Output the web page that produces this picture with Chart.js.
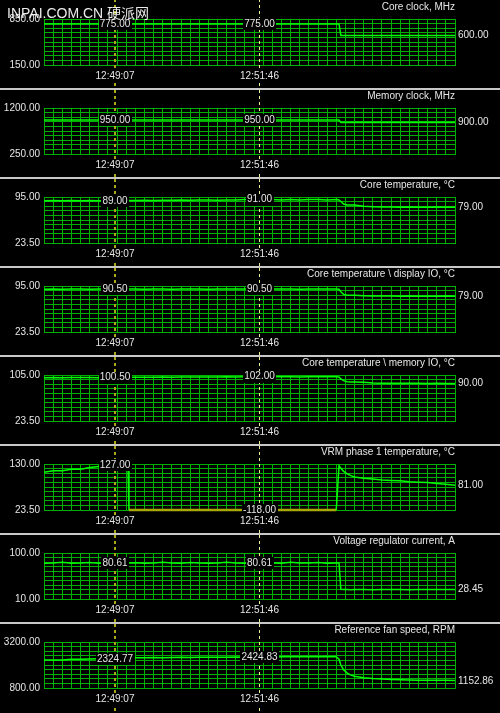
<!DOCTYPE html>
<html>
<head>
<meta charset="utf-8">
<script src="https://cdn.jsdelivr.net/npm/chart.js@4.4.0/dist/chart.umd.min.js"></script>
<style>
  body { margin: 0; background: #000; }
  #wrap { position: relative; width: 500px; height: 713px; overflow: hidden; background: #000; }
  #wrap canvas { position: absolute; left: 0; }
</style>
</head>
<body>
<div id="wrap"></div>
<script>
// sample times, seconds from the left edge of the graphs
const times = [0,10,20,30,40,50,60,70,80,90, 92,93,
  100,110,120,130,140,150,160,170,180,190,200, 210,220,230,240,250,260,270,280,290,300,310,
  320, 323,325,328,332,336,340, 350,360,370,380,390,400,410,420,430,440,450];

const coreClock = [775,775,775,775,775,775,775,775,775,775, 775,775,
  775,775,775,775,775,775,775,775,775,775,775, 775,775,775,775,775,775,775,775,775,775,775,
  775, 775,600,600,600,600,600, 600,600,600,600,600,600,600,600,600,600,600];
const memClock = [950,950,950,950,950,950,950,950,950,950, 950,950,
  950,950,950,950,950,950,950,950,950,950,950, 950,950,950,950,950,950,950,950,950,950,950,
  950, 950,900,900,900,900,900, 900,900,900,900,900,900,900,900,900,900,900];
const coreTemp = [89,89.5,89,89.5,89,89.5,89,89,89,89.5, 89.5,89.5,
  89.5,90,89.5,90,90,90.5,90,90.5,90.5,90,90.5, 90.5,91,91,91,91,90.5,91,90.5,91,91,90.5,
  91, 90.5,88,84,82.5,82.5,82.5, 80.5,80,79.5,79.5,79,79.5,79,79,79.5,79,79];
const displayIO = [90,90.5,90,90.5,90.5,90,90.5,90.5,90.5,90.5, 90.5,90.5,
  90.5,90,90.5,90.5,90,90.5,90.5,90.5,90,90.5,90.5, 90.5,90.5,90.5,91,90.5,90.5,90.5,90,90.5,90.5,90.5,
  90.5, 90,86,82,80.5,80.5,80.5, 80,79.5,79.5,79.5,79,79.5,79,79,79,79.5,79];
const memIO = [100,100.5,100,100.5,100.5,100.5,100,100.5,100.5,101, 101,101,
  101,101,101,101.5,101,101.5,101.5,101.5,101.5,101.5,102, 101.5,102,102,102,102,102,102,101.5,102,102,102,
  102, 101.5,98,95,93,92.5,92.5, 92,91,90.5,90.5,90.5,90.5,90.5,90,90.5,90,90];
const vrmTemp = [111,114.5,114.5,118,118,122,124,125.5,127,127, 127,-118,
  -118,-118,-118,-118,-118,-118,-118,-118,-118,-118,-118, -118,-118,-118,-118,-118,-118,-118,-118,-118,-118,-118,
  -118, 126,120,113,107,103,100, 97,95,93,92,91,89,88,87,85,83,81];
const vrCurrent = [80,80.5,82,80,80.5,81.5,80,80.5,80.6,80.5, 80.5,80.5,
  81,80,80.5,82,80.5,80,81.5,80.5,80,80.5,82, 80.5,80,80.6,81,80.5,80,82,80.5,80.5,81.5,80,
  80.5, 80.5,29,28.5,28.5,28,28.5, 28.5,28,28.5,28.5,28.5,28,28.5,28.5,28.5,28.5,28.45];
const fanSpeed = [2260,2260,2260,2300,2300,2310,2325,2325,2330,2380, 2380,2380,
  2380,2380,2390,2380,2390,2400,2390,2400,2410,2400,2410, 2420,2410,2425,2425,2420,2425,2425,2430,2425,2425,2425,
  2425, 2300,2000,1750,1580,1470,1411, 1330,1290,1265,1245,1225,1215,1210,1205,1200,1200,1195];

const titles = ['Core clock, MHz', 'Memory clock, MHz', 'Core temperature, °C',
  'Core temperature \\ display IO, °C', 'Core temperature \\ memory IO, °C',
  'VRM phase 1 temperature, °C', 'Voltage regulator current, A', 'Reference fan speed, RPM'];
const yMin = [150, 250, 23.5, 23.5, 23.5, 23.5, 10, 800];
const yMax = [850, 1200, 95, 95, 105, 130, 100, 3200];

const cursorTimes = [78, 235];
const cursorNames = ['12:49:07', '12:51:46'];
const atCursorA = [775, 950, 89, 90.5, 100.5, 127, 80.61, 2324.77];
const atCursorB = [775, 950, 91, 90.5, 102, -118, 80.61, 2424.83];
const lastValue = [600, 900, 79, 79, 90, 81, 28.45, 1152.86];

const series = [coreClock, memClock, coreTemp, displayIO, memIO, vrmTemp, vrCurrent, fanSpeed];

const FONT = '10px "Liberation Sans", Arial, sans-serif';
const TXT = '#e6e6e6';
const GRID = '#00b000';
const LINE = '#00ff00';
const OUT = '#a8a800';

const overlay = {
  id: 'overlay',
  afterDraw(chart, args, opts) {
    const i = opts.idx;
    const ctx = chart.ctx;
    const a = chart.chartArea;
    const xs = chart.scales.x, ys = chart.scales.y;
    const H = chart.height;
    const yOf = v => ys.getPixelForValue(Math.min(Math.max(v, yMin[i]), yMax[i]));
    ctx.save();
    if (i > 0) { ctx.fillStyle = '#c8c8c8'; ctx.fillRect(0, 0, chart.width, 2); }
    const top = i > 0 ? 2 : 0;

    // cursor lines
    const c0 = Math.round(xs.getPixelForValue(cursorTimes[0]));
    const c1 = Math.round(xs.getPixelForValue(cursorTimes[1])) + 0.5;
    ctx.setLineDash([3, 3]);
    ctx.lineWidth = 2; ctx.strokeStyle = '#a8a818';
    ctx.beginPath(); ctx.moveTo(c0, top); ctx.lineTo(c0, H); ctx.stroke();
    ctx.lineWidth = 1; ctx.strokeStyle = '#ecec90';
    ctx.beginPath(); ctx.moveTo(c1, top); ctx.lineTo(c1, H); ctx.stroke();
    ctx.setLineDash([]);

    ctx.font = FONT;
    ctx.textBaseline = 'middle';
    function boxed(str, x, y) {
      const w = ctx.measureText(str).width;
      ctx.fillStyle = '#000';
      ctx.fillRect(Math.round(x - w / 2 - 1), Math.round(y - 6), Math.ceil(w + 2), 12);
      ctx.fillStyle = TXT;
      ctx.textAlign = 'center';
      ctx.fillText(str, x, y);
    }
    boxed(atCursorA[i].toFixed(2), c0, yOf(atCursorA[i]));
    boxed(atCursorB[i].toFixed(2), c1, yOf(atCursorB[i]));
    boxed(cursorNames[0], c0, 77);
    boxed(cursorNames[1], c1, 77);

    ctx.fillStyle = TXT;
    ctx.textAlign = 'right';
    ctx.fillText(yMax[i].toFixed(2), 40, a.top);
    ctx.fillText(yMin[i].toFixed(2), 40, a.bottom);
    ctx.fillText(titles[i], a.right, 8.5);
    ctx.textAlign = 'left';
    ctx.fillText(lastValue[i].toFixed(2), a.right + 3, yOf(lastValue[i]));

    if (i === 0) {
      ctx.font = '14px "Liberation Sans", "Noto Sans CJK SC", sans-serif';
      ctx.fillStyle = 'rgba(255,255,255,0.92)';
      ctx.textAlign = 'left';
      ctx.fillText('INPAI.COM.CN 硬派网', 7, 15);
    }
    ctx.restore();
  }
};

const wrap = document.getElementById('wrap');
series.forEach((vals, i) => {
  const c = document.createElement('canvas');
  c.width = 500; c.height = 89;
  c.style.top = (89 * i - 1) + 'px';
  wrap.appendChild(c);
  const lo = yMin[i], hi = yMax[i];
  const out = s => vals[s.p0DataIndex] < lo && vals[s.p1DataIndex] < lo;
  new Chart(c, {
    type: 'line',
    data: {
      datasets: [{
        data: times.map((t, k) => ({ x: t, y: Math.max(vals[k], lo) })),
        borderColor: LINE,
        borderWidth: 1.5,
        pointRadius: 0,
        tension: 0,
        clip: 3,
        segment: {
          borderColor: s => out(s) ? OUT : LINE,
          borderWidth: s => out(s) ? 2.5 : 1.5
        }
      }]
    },
    options: {
      responsive: false,
      animation: false,
      devicePixelRatio: 1,
      layout: { padding: { left: 44, right: 45, top: 20, bottom: 23 } },
      plugins: { legend: { display: false }, tooltip: { enabled: false }, overlay: { idx: i } },
      scales: {
        x: {
          type: 'linear', min: 0, max: 450,
          ticks: { display: false },
          afterBuildTicks: ax => { ax.ticks = Array.from({ length: 46 }, (_, k) => ({ value: k * 10 })); },
          grid: { color: GRID, drawTicks: false },
          border: { color: GRID }
        },
        y: {
          type: 'linear', min: lo, max: hi,
          ticks: { display: false },
          afterBuildTicks: ax => { ax.ticks = Array.from({ length: 11 }, (_, k) => ({ value: lo + k * (hi - lo) / 10 })); },
          grid: { color: GRID, drawTicks: false },
          border: { color: GRID }
        }
      }
    },
    plugins: [overlay]
  });
});
</script>
</body>
</html>
